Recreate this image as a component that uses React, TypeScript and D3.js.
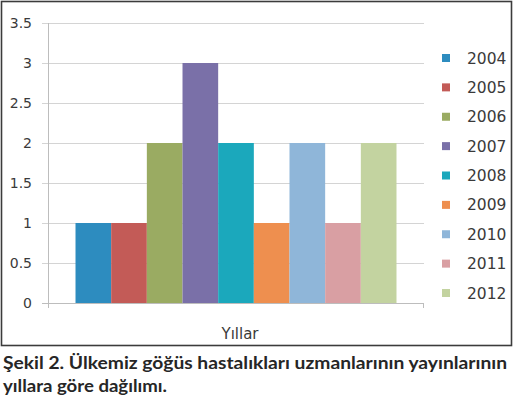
import { useEffect, useRef } from 'react';
import * as d3 from 'd3';

const years = ['2004', '2005', '2006', '2007', '2008', '2009', '2010', '2011', '2012'];
const counts = [1, 1, 2, 3, 2, 1, 2, 1, 2];
const colors = ['#2d8cbf', '#c35b57', '#9aab62', '#7a70a8', '#1ba8bc', '#ee8f4f', '#8fb6d9', '#d99fa3', '#c3d3a0'];
const yTicks = [0, 0.5, 1, 1.5, 2, 2.5, 3, 3.5];
const axisTitle = 'Yıllar';
const captionLines = [
  'Şekil 2. Ülkemiz göğüs hastalıkları uzmanlarının yayınlarının',
  'yıllara göre dağılımı.'
];

export default function App() {
  const svgRef = useRef<SVGSVGElement>(null);

  useEffect(() => {
    if (!svgRef.current) return;
    const svg = d3.select(svgRef.current);
    svg.selectAll('*').remove();

    const plot = { left: 48, right: 424, top: 23, bottom: 303 };
    const font = '"DejaVu Sans", Verdana, sans-serif';
    const textColor = '#3a3a3a';

    // Scales
    const yScale = d3.scaleLinear().domain([0, 3.5]).range([plot.bottom, plot.top]);
    const group = d3.scaleBand<string>()
      .domain([axisTitle])
      .range([plot.left, plot.right])
      .paddingInner(0)
      .paddingOuter(0.0857);
    const xScale = d3.scaleBand<string>()
      .domain(years)
      .range([group(axisTitle)!, group(axisTitle)! + group.bandwidth()])
      .padding(0);
    const legendY = d3.scalePoint<string>().domain(years).range([58, 293]);

    // Outer frame
    svg.append('rect')
      .attr('x', 1.5).attr('y', 1.5)
      .attr('width', 510).attr('height', 344)
      .attr('fill', 'white')
      .attr('stroke', '#3c3c3c')
      .attr('stroke-width', 1.6);

    // Grid lines + left ticks
    const g = svg.append('g');
    g.selectAll('line.grid')
      .data(yTicks.filter(d => d > 0))
      .join('line')
      .attr('x1', plot.left - 6).attr('x2', plot.right)
      .attr('y1', d => Math.round(yScale(d)) + 0.5)
      .attr('y2', d => Math.round(yScale(d)) + 0.5)
      .attr('stroke', '#d4d4d4')
      .attr('stroke-width', 1);

    // Bars
    g.selectAll('rect.bar')
      .data(years)
      .join('rect')
      .attr('x', d => xScale(d)!)
      .attr('y', (d, i) => yScale(counts[i]))
      .attr('width', xScale.bandwidth())
      .attr('height', (d, i) => yScale(0) - yScale(counts[i]))
      .attr('fill', (d, i) => colors[i]);

    // Axes
    const axisColor = '#bdbdbd';
    g.append('line')
      .attr('x1', plot.left + 0.5).attr('x2', plot.left + 0.5)
      .attr('y1', plot.top).attr('y2', plot.bottom + 5)
      .attr('stroke', axisColor);
    g.append('line')
      .attr('x1', plot.left - 6).attr('x2', plot.right)
      .attr('y1', plot.bottom + 0.5).attr('y2', plot.bottom + 0.5)
      .attr('stroke', axisColor);
    g.append('line')
      .attr('x1', plot.right - 0.5).attr('x2', plot.right - 0.5)
      .attr('y1', plot.bottom).attr('y2', plot.bottom + 5)
      .attr('stroke', axisColor);

    // Y tick labels
    g.selectAll('text.ytick')
      .data(yTicks)
      .join('text')
      .attr('x', 32)
      .attr('y', d => yScale(d) + 5)
      .attr('text-anchor', 'end')
      .attr('font-family', font)
      .attr('font-size', 14)
      .attr('fill', textColor)
      .text(d => d3.format('')(d));

    // Axis title
    g.append('text')
      .attr('x', group(axisTitle)! + group.bandwidth() / 2 + 4)
      .attr('y', 339)
      .attr('text-anchor', 'middle')
      .attr('font-family', font)
      .attr('font-size', 15)
      .attr('fill', textColor)
      .text(axisTitle);

    // Legend
    const legend = g.selectAll('g.legend')
      .data(years)
      .join('g')
      .attr('transform', d => `translate(442,${legendY(d)})`);
    legend.append('rect')
      .attr('x', 0).attr('y', -4)
      .attr('width', 8).attr('height', 8)
      .attr('fill', (d, i) => colors[i]);
    legend.append('text')
      .attr('x', 25).attr('y', 5.5)
      .attr('font-family', font)
      .attr('font-size', 15.5)
      .attr('fill', textColor)
      .text(d => d);

    // Caption
    const captionWidths = [504, 164];
    svg.selectAll('text.caption')
      .data(captionLines)
      .join('text')
      .attr('x', 3)
      .attr('y', (d, i) => 369 + i * 22.5)
      .attr('font-family', 'Lato, "DejaVu Sans", sans-serif')
      .attr('font-weight', 'bold')
      .attr('font-size', 16.5)
      .attr('fill', '#262626')
      .attr('textLength', (d, i) => captionWidths[i])
      .attr('lengthAdjust', 'spacingAndGlyphs')
      .text(d => d);
  }, []);

  return (
    <div style={{ position: 'absolute', left: 0, top: 0, width: 514, height: 399, background: 'white' }}>
      <svg ref={svgRef} width={514} height={399} style={{ display: 'block' }} />
    </div>
  );
}
